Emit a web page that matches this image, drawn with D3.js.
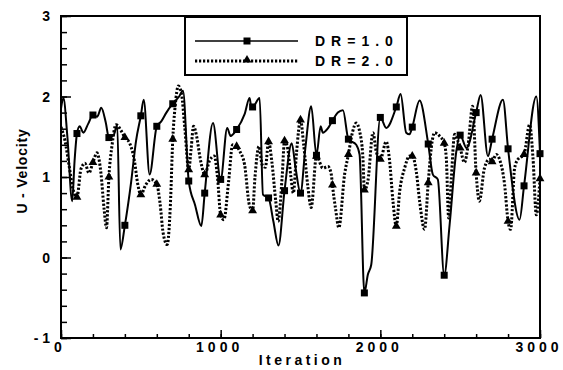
<!DOCTYPE html>
<html><head><meta charset="utf-8">
<script src="https://cdn.jsdelivr.net/npm/d3@7"></script>
<style>
html,body{margin:0;padding:0;background:#fff;}
text{font-family:"Liberation Sans",Arial,Helvetica,sans-serif;font-weight:bold;fill:#000;}
</style></head>
<body>
<svg id="chart" width="563" height="370"></svg>
<script>
// ---- data ----
const xTicks = [0, 1000, 2000, 3000];
const yTicks = [-1, 0, 1, 2, 3];
const seriesNames = ["DR=1.0", "DR=2.0"];

const dr1X = [0,15,40,70,85,100,117,140,170,200,227,252,280,300,330,352,372,400,440,470,500,518,555,600,628,660,700,740,764,800,840,879,900,952,1000,1041,1062,1100,1150,1181,1191,1200,1244,1265,1300,1330,1362,1400,1445,1470,1500,1530,1567,1600,1626,1640,1670,1700,1734,1766,1800,1849,1870,1900,1922,1943,2000,2037,2100,2127,2162,2183,2200,2246,2300,2329,2360,2400,2434,2476,2500,2540,2600,2628,2674,2700,2768,2800,2872,2900,2977,3000];
const dr1Y = [1.85,1.98,1.50,0.70,1.20,1.54,1.63,1.55,1.66,1.77,1.75,1.86,1.68,1.49,1.52,1.65,0.10,0.40,0.95,1.45,1.76,1.96,1.03,1.63,1.69,1.80,1.91,2.00,2.07,0.95,0.65,0.39,0.80,1.67,0.97,1.61,1.51,1.59,1.78,1.98,1.88,1.87,1.98,0.78,0.74,0.45,0.15,0.83,1.42,1.10,0.80,1.35,1.88,1.27,1.63,1.55,1.60,1.70,1.80,1.83,1.47,1.40,1.28,-0.44,-0.21,-0.09,1.74,1.61,1.87,2.03,1.55,1.53,1.62,1.95,1.41,1.03,0.97,-0.22,0.41,1.32,1.52,1.36,1.80,2.02,1.26,1.47,1.96,1.35,0.47,0.89,2.00,1.29];

const dr2X = [0,25,50,75,100,125,150,175,200,225,250,270,285,300,320,345,375,400,430,460,480,500,530,565,600,620,640,665,685,700,715,735,755,775,800,815,830,850,870,890,900,930,960,980,1000,1020,1050,1075,1100,1120,1150,1180,1200,1215,1240,1260,1280,1300,1320,1345,1360,1385,1400,1420,1440,1455,1475,1500,1520,1545,1567,1600,1640,1672,1693,1700,1720,1740,1776,1800,1825,1849,1870,1891,1900,1922,1954,1974,2000,2037,2058,2079,2100,2121,2152,2183,2200,2225,2246,2277,2300,2319,2340,2371,2400,2413,2428,2445,2465,2485,2500,2527,2550,2578,2600,2620,2652,2683,2700,2726,2750,2778,2800,2816,2841,2862,2900,2935,2956,2977,3000];
const dr2Y = [1.62,1.45,1.15,0.85,0.75,1.10,1.17,1.05,1.18,1.30,1.05,0.60,0.37,1.00,1.40,1.65,1.58,1.49,1.42,1.20,0.92,0.78,0.90,0.97,0.91,0.68,0.30,0.16,0.65,1.47,1.88,2.13,2.03,1.62,1.09,1.35,1.63,1.50,1.25,1.07,1.03,1.20,1.26,1.00,0.53,0.47,0.95,1.40,1.38,1.32,1.15,0.65,0.58,1.00,1.38,1.15,1.12,1.44,1.20,0.70,0.45,1.00,1.45,1.35,1.00,0.80,1.30,1.71,1.40,0.90,0.62,1.26,1.11,1.13,1.03,0.90,0.60,0.37,1.03,1.28,1.55,1.67,1.57,1.24,0.84,0.95,1.55,1.32,1.22,1.44,1.20,0.70,0.39,0.82,1.11,1.26,1.26,1.07,0.70,0.35,0.93,1.36,1.55,1.51,1.42,1.24,0.49,1.00,1.53,1.45,1.36,1.18,1.40,1.88,1.05,0.70,1.11,1.22,1.19,1.28,1.20,0.91,0.45,0.35,1.11,1.22,1.28,1.65,1.24,0.53,0.98];

// ---- layout ----
const svg = d3.select("#chart");
const L = 61, R = 540, T = 16, B = 338;
const x = d3.scaleLinear().domain([0, 3000]).range([L, R]);
const y = d3.scaleLinear().domain([-1, 3]).range([B, T]);

const s1 = dr1X.map((v, i) => ({x: v, y: dr1Y[i]}));
const s2 = dr2X.map((v, i) => ({x: v, y: dr2Y[i]}));

const line = d3.line().x(d => x(d.x)).y(d => y(d.y)).curve(d3.curveMonotoneX);

svg.append("clipPath").attr("id", "clip").append("rect")
  .attr("x", L).attr("y", T).attr("width", R - L).attr("height", B - T);

const g = svg.append("g").attr("clip-path", "url(#clip)");

g.append("path").datum(s2).attr("d", line).attr("fill", "none")
  .attr("stroke", "#000").attr("stroke-width", 3).attr("stroke-dasharray", "2.2,1.8");
g.append("path").datum(s1).attr("d", line).attr("fill", "none")
  .attr("stroke", "#000").attr("stroke-width", 2);

const tri = d3.symbol().type(d3.symbolTriangle).size(34);
const sq = 7;

svg.append("g").selectAll("path").data(s2.filter(d => d.x > 0 && d.x % 100 === 0)).join("path")
  .attr("d", tri).attr("transform", d => `translate(${x(d.x)},${y(d.y)})`).attr("fill", "#000");
svg.append("g").selectAll("rect").data(s1.filter(d => d.x > 0 && d.x % 100 === 0)).join("rect")
  .attr("x", d => x(d.x) - sq / 2).attr("y", d => y(d.y) - sq / 2)
  .attr("width", sq).attr("height", sq).attr("fill", "#000");

// ---- axes ----
const xAxisMinor = d3.axisTop(x).tickValues(d3.range(0, 3001, 200)).tickSize(4).tickFormat("");
const xAxisMajor = d3.axisTop(x).tickValues(xTicks).tickSize(8).tickFormat("");
const yAxisMinor = d3.axisRight(y).tickValues(d3.range(-1, 3.001, 0.2)).tickSize(6).tickFormat("");
const yAxisMajor = d3.axisRight(y).tickValues(yTicks).tickSize(10).tickFormat("");

[xAxisMinor, xAxisMajor].forEach(a => {
  const ga = svg.append("g").attr("transform", `translate(0,${B})`).call(a);
  ga.select(".domain").remove();
  ga.selectAll("line").attr("stroke", "#000").attr("stroke-width", 1.5);
});
[yAxisMinor, yAxisMajor].forEach(a => {
  const ga = svg.append("g").attr("transform", `translate(${L},0)`).call(a);
  ga.select(".domain").remove();
  ga.selectAll("line").attr("stroke", "#000").attr("stroke-width", 1.5);
});

svg.append("rect").attr("x", L).attr("y", T).attr("width", R - L).attr("height", B - T)
  .attr("fill", "none").attr("stroke", "#000").attr("stroke-width", 2);

// tick labels
svg.append("g").selectAll("text").data(xTicks).join("text")
  .attr("x", d => x(d) - 1).attr("y", 352).attr("text-anchor", "middle")
  .style("font-size", "14px").style("letter-spacing", "4px").text(d => d);
svg.append("g").selectAll("text").data(yTicks).join("text")
  .attr("x", 50).attr("y", d => y(d) + 5).attr("text-anchor", "end")
  .style("font-size", "14px").text(d => d < 0 ? "- 1" : d);

svg.append("text").attr("x", 302).attr("y", 365).attr("text-anchor", "middle")
  .style("font-size", "14px").style("letter-spacing", "3.5px").text("Iteration");
svg.append("text").attr("transform", "translate(27,171) rotate(-90)").attr("text-anchor", "middle")
  .style("font-size", "14px").style("letter-spacing", "0.8px").text("U - Velocity");

// ---- legend ----
const lg = svg.append("g");
lg.append("rect").attr("x", 185).attr("y", 17).attr("width", 222).attr("height", 58)
  .attr("fill", "#fff").attr("stroke", "#000").attr("stroke-width", 2);
lg.append("line").attr("x1", 195).attr("x2", 298).attr("y1", 41).attr("y2", 41)
  .attr("stroke", "#000").attr("stroke-width", 1.7);
lg.append("rect").attr("x", 247 - sq / 2).attr("y", 41 - sq / 2).attr("width", sq).attr("height", sq).attr("fill", "#000");
lg.append("line").attr("x1", 195).attr("x2", 298).attr("y1", 61).attr("y2", 61)
  .attr("stroke", "#000").attr("stroke-width", 3).attr("stroke-dasharray", "2.2,1.8");
lg.append("path").attr("d", tri).attr("transform", "translate(247,60)").attr("fill", "#000");
lg.selectAll("text.lbl").data(seriesNames).join("text").attr("class", "lbl")
  .attr("x", 315).attr("y", (d, i) => 46 + i * 20)
  .style("font-size", "14px").style("letter-spacing", "6px").text(d => d);
</script>
</body></html>
